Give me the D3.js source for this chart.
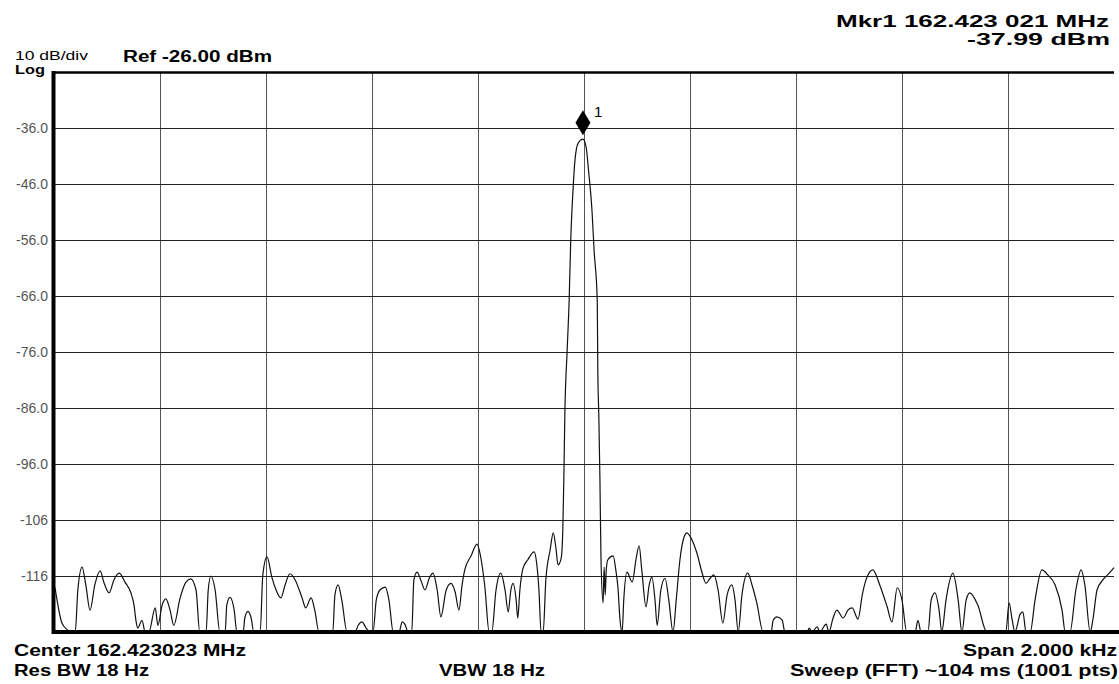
<!DOCTYPE html>
<html>
<head>
<meta charset="utf-8">
<script src="https://cdn.jsdelivr.net/npm/d3@7"></script>
<style>
body { margin: 0; background: #fff; }
svg { display: block; font-family: "Liberation Sans", Arial, sans-serif; }
</style>
</head>
<body>
<div id="chart"></div>
<script>
// trace: offset from center (Hz) and level (dBm)
const freqOffsetHz = [
    -998, -985, -975, -970, -960, -955, -947, -940, -932, -923, -913, -906, -896, -887, -877, -866, -855, -849, -845, -842,
    -834, -828, -821, -809, -804, -796, -789, -781, -774, -762, -751, -742, -732, -725, -713, -709, -704, -696, -687, -677,
    -674, -668, -660, -655, -643, -640, -634, -628, -623, -611, -606, -598, -589, -581, -572, -564, -555, -545, -532, -525,
    -515, -508, -500, -474, -470, -464, -457, -447, -432, -426, -419, -411, -404, -398, -392, -385, -375, -368, -360, -349,
    -343, -338, -332, -325, -321, -315, -308, -300, -292, -285, -277, -270, -260, -251, -243, -236, -230, -225, -213, -202,
    -194, -187, -179, -174, -166, -157, -149, -143, -138, -134, -128, -125, -121, -115, -106, -94, -89, -85, -81, -77,
    -72, -64, -58, -53, -49, -43, -40, -38, -36, -32, -28, -25, -21, -17, -11, -2, 4, 9, 15, 19,
    25, 26, 28, 30, 32, 36, 38, 40, 42, 45, 55, 60, 64, 68, 72, 75, 81, 91, 98, 104,
    109, 117, 123, 128, 134, 138, 145, 153, 160, 168, 174, 181, 189, 194, 204, 213, 223, 230, 238, 245,
    253, 262, 270, 279, 285, 291, 298, 309, 317, 326, 338, 353, 357, 364, 374, 379, 421, 425, 430, 440,
    445, 457, 462, 470, 477, 489, 498, 506, 517, 525, 532, 545, 558, 572, 581, 591, 600, 609, 625, 630,
    636, 649, 655, 662, 670, 675, 683, 696, 706, 713, 721, 728, 743, 760, 796, 802, 808, 813, 823, 828,
    834, 842, 851, 864, 875, 889, 902, 908, 917, 928, 938, 945, 955, 960, 968, 979, 991, 1000
];
const levelDbm = [
    -118.1, -124.4, -125.6, -128, -128, -118.5, -114.4, -117.6, -122.1, -117.6, -115.1, -117.1, -119.0, -116.7, -115.5, -117.1, -119.0, -121.2, -124.2, -125.3,
    -123.9, -128, -128, -121.7, -124.8, -121.2, -120.1, -122.1, -124.8, -119.9, -117.1, -116.5, -118.5, -128, -128, -118.5, -116.0, -118.5, -128, -128,
    -121.2, -119.8, -122.1, -128, -128, -123.5, -122.3, -123.5, -128, -128, -115.8, -112.6, -116.2, -118.5, -119.9, -117.6, -115.6, -116.7, -119.9, -121.7,
    -119.9, -122.1, -128, -128, -119.4, -117.6, -120.3, -128, -128, -124.8, -124.2, -125.3, -128, -128, -120.3, -118.5, -118.0, -120.3, -128, -128,
    -124.2, -124.6, -128, -128, -116.7, -115.3, -116.7, -118.5, -116.4, -115.5, -118.5, -123.3, -118.5, -117.3, -118.9, -122.1, -117.6, -114.9, -112.4, -110.3,
    -113.1, -118.0, -128, -128, -118.5, -115.5, -118.5, -122.4, -118.5, -117.3, -120.3, -123.5, -118.5, -114.6, -113.1, -111.7, -114.0, -118.5, -128, -128,
    -116.7, -111.4, -108.3, -111.0, -114.0, -112.8, -107.8, -98.3, -86.4, -76.2, -66.7, -56.0, -47.6, -41.7, -38.7, -37.99, -39.4, -44.0, -50.6, -57.8,
    -66.7, -78.7, -87.6, -98.3, -112.6, -120.8, -114.4, -119.4, -114.9, -113.1, -112.4, -114.9, -118.0, -123.9, -128, -120.3, -115.3, -117.1, -113.1, -110.6,
    -114.9, -121.5, -117.6, -116.2, -120.3, -124.8, -118.5, -116.4, -120.3, -128, -120.3, -113.1, -109.0, -108.3, -109.6, -111.9, -115.5, -117.3, -116.4, -115.8,
    -118.5, -124.4, -119.4, -117.6, -120.3, -128, -119.4, -115.5, -117.6, -120.8, -128, -128, -123.9, -123.3, -123.9, -128, -128, -125.3, -126.0, -125.1,
    -126.0, -124.6, -126.0, -123.5, -122.1, -123.5, -122.1, -121.7, -123.7, -119.4, -116.7, -114.9, -117.6, -121.5, -124.2, -118.1, -120.3, -128, -128, -123.9,
    -128, -128, -120.3, -119.0, -122.1, -128, -120.3, -115.5, -120.3, -128, -120.3, -119.0, -121.2, -126.5, -128, -120.8, -123.9, -126.0, -122.8, -122.4,
    -126.0, -128, -120.3, -114.9, -115.8, -117.6, -122.1, -128, -128, -118.5, -114.9, -117.6, -128, -123.9, -118.5, -116.7, -115.5, -114.5
];

const yTickValues = [-36, -46, -56, -66, -76, -86, -96, -106, -116];
const yTickLabels = ["-36.0", "-46.0", "-56.0", "-66.0", "-76.0", "-86.0", "-96.0", "-106", "-116"];
const xTickValues = [-800, -600, -400, -200, 0, 200, 400, 600, 800];
const markerName = "1";
const markerOffsetHz = -2;
const markerLevel = -37.99;

const W = 1119, H = 684;
const plotL = 54, plotR = 1114, plotT = 72, plotB = 632;

const svg = d3.select("#chart").append("svg").attr("width", W).attr("height", H);

const x = d3.scaleLinear().domain([-1000, 1000]).range([plotL, plotR]);
const y = d3.scaleLinear().domain([-126, -26]).range([plotB, plotT]).clamp(true);

// grid
const gx = svg.append("g").attr("transform", `translate(0,${plotB})`)
    .call(d3.axisBottom(x).tickValues(xTickValues).tickSize(-(plotB - plotT)).tickFormat(""));
gx.select(".domain").remove();
gx.selectAll("line").attr("stroke", "#555").attr("stroke-width", 1);

const gy = svg.append("g").attr("transform", `translate(${plotL},0)`)
    .call(d3.axisLeft(y).tickValues(yTickValues).tickSize(-(plotR - plotL)).tickPadding(6)
        .tickFormat((d, i) => yTickLabels[i]));
gy.select(".domain").remove();
gy.selectAll("line").attr("stroke", "#222").attr("stroke-width", 1);
gy.selectAll("text").attr("fill", "#555").style("font-size", "14px")
    .style("font-family", "'Liberation Sans', Arial, sans-serif");

// trace (smoothed like the analyzer's display)
const line = d3.line().x((d, i) => x(freqOffsetHz[i])).y(d => y(d)).curve(d3.curveMonotoneX);
svg.append("path").datum(levelDbm).attr("fill", "none").attr("stroke", "#111")
    .attr("stroke-width", 1.2).attr("stroke-linejoin", "round").attr("d", line);

// frame
svg.append("line").attr("x1", plotL).attr("x2", plotR).attr("y1", plotT + 0.5).attr("y2", plotT + 0.5)
    .attr("stroke", "#000").attr("stroke-width", 2.5);
svg.append("line").attr("x1", plotL).attr("x2", W).attr("y1", plotB).attr("y2", plotB)
    .attr("stroke", "#000").attr("stroke-width", 4);
svg.append("line").attr("x1", plotL - 0.5).attr("x2", plotL - 0.5).attr("y1", plotT - 1).attr("y2", plotB + 2)
    .attr("stroke", "#000").attr("stroke-width", 4);

// marker diamond sits just above the trace peak
const mx = x(markerOffsetHz), my = y(markerLevel);
svg.append("path")
    .attr("d", `M${mx},${my - 29} L${mx + 7.5},${my - 16.5} L${mx},${my - 4} L${mx - 7.5},${my - 16.5} Z`)
    .attr("fill", "#000");
svg.append("text").attr("x", mx + 11).attr("y", my - 22).text(markerName)
    .style("font-size", "15px").attr("fill", "#000");

// annotations
function label(txt, tx, ty, size, weight, len) {
    svg.append("text").attr("x", tx).attr("y", ty).text(txt)
        .style("font-size", size + "px").style("font-weight", weight).attr("fill", "#000")
        .attr("textLength", len).attr("lengthAdjust", "spacingAndGlyphs");
}
label("10 dB/div", 15, 60, 13.5, "normal", 73);
label("Log", 15, 74, 12, "bold", 30);
label("Ref -26.00 dBm", 123, 62, 16, "bold", 149);
label("Mkr1 162.423 021 MHz", 836, 27, 17, "bold", 273);
label("-37.99 dBm", 967, 45, 16.5, "bold", 143);
label("Center 162.423023 MHz", 14, 656, 16.5, "bold", 232);
label("Res BW 18 Hz", 14, 676, 16.5, "bold", 135);
label("VBW 18 Hz", 439, 676, 16.5, "bold", 106);
label("Span 2.000 kHz", 963, 656, 16.5, "bold", 154);
label("Sweep (FFT)  ~104 ms (1001 pts)", 790, 676, 16.5, "bold", 328);
</script>
</body>
</html>
